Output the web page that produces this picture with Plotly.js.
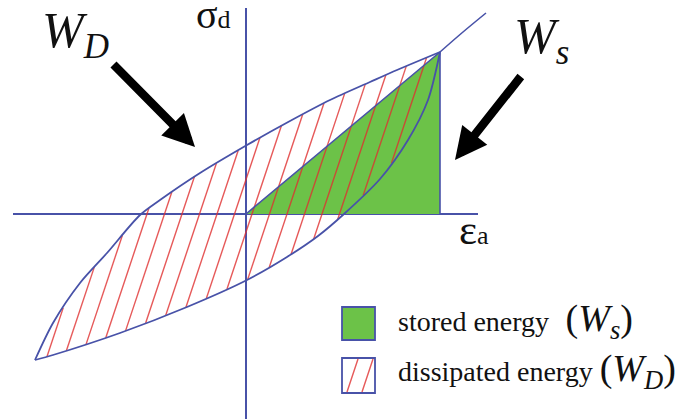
<!DOCTYPE html>
<html>
<head>
<meta charset="utf-8">
<script src="https://cdn.plot.ly/plotly-3.0.1.min.js"></script>
<style>
  html, body { margin: 0; padding: 0; background: #ffffff; }
  #chart { width: 682px; height: 419px; }
</style>
</head>
<body>
<div id="chart"></div>
<script>
// Hysteresis loop of deviator stress (sigma_d) against axial strain (eps_a).
// Strain / stress in arbitrary units, origin at the intersection of the axes.

// Unloading branch (upper edge of the loop), from the negative tip to the positive tip
const upperStrain = [-2.11, -1.93, -1.66, -1.39, -1.06, -0.86, -0.46, 0.01, 0.44, 0.84, 1.24, 1.51, 1.94];
const upperStress = [-1.46, -1.09, -0.69, -0.39, -0.01,  0.14,  0.41, 0.69, 0.93, 1.14, 1.32, 1.44, 1.62];

// Reloading branch (lower edge of the loop), from the negative tip to the positive tip
const lowerStrain = [-2.11, -1.93, -1.26, -0.59, 0.01,  0.41,  0.72, 0.98, 1.34, 1.62, 1.82, 1.94];
const lowerStress = [-1.46, -1.41, -1.19, -0.93, -0.66, -0.43, -0.22, 0.00, 0.35, 0.74, 1.14, 1.62];

// Backbone continuing beyond the positive tip
const backboneStrain = [1.94, 2.17, 2.40];
const backboneStress = [1.62, 1.82, 2.01];

// Drawn extent of the two coordinate axes
const strainAxisSpan = [-2.33, 2.32];
const stressAxisSpan = [-2.06, 2.06];

const W = 682, H = 419;
const BLUE = 'rgb(72,82,168)';
const GREEN = 'rgb(108,194,72)';
const HATCH = 'rgba(224,48,48,0.8)';
const SERIF = 'Liberation Serif, Times New Roman, serif';

// Hatch strokes: x - y / slope = const, spaced evenly along the strain axis
const HATCH_SLOPE = 3.0;
const HATCH_STEP = 0.175;
const HATCH_START = -0.99;

function hatchSegments(px, py) {
  const xs = [], ys = [];
  const n = px.length;
  let cmin = Infinity, cmax = -Infinity;
  for (let i = 0; i < n; i++) {
    const c = px[i] - py[i] / HATCH_SLOPE;
    cmin = Math.min(cmin, c); cmax = Math.max(cmax, c);
  }
  const k0 = Math.ceil((cmin - HATCH_START) / HATCH_STEP);
  const k1 = Math.floor((cmax - HATCH_START) / HATCH_STEP);
  for (let k = k0; k <= k1; k++) {
    const c = HATCH_START + k * HATCH_STEP;
    const hits = [];
    for (let i = 0; i < n; i++) {
      const j = (i + 1) % n;
      const fi = px[i] - py[i] / HATCH_SLOPE - c;
      const fj = px[j] - py[j] / HATCH_SLOPE - c;
      if ((fi < 0) !== (fj < 0)) {
        const t = fi / (fi - fj);
        hits.push([px[i] + t * (px[j] - px[i]), py[i] + t * (py[j] - py[i])]);
      }
    }
    hits.sort((a, b) => a[1] - b[1]);
    for (let m = 0; m + 1 < hits.length; m += 2) {
      xs.push(hits[m][0], hits[m + 1][0], null);
      ys.push(hits[m][1], hits[m + 1][1], null);
    }
  }
  return { xs, ys };
}

// Closed loop outline: upper branch forward, lower branch back
const loopX = upperStrain.concat(lowerStrain.slice(1, -1).reverse());
const loopY = upperStress.concat(lowerStress.slice(1, -1).reverse());
const hatch = hatchSegments(loopX, loopY);

const tipX = upperStrain[upperStrain.length - 1];
const tipY = upperStress[upperStress.length - 1];

const traces = [
  { // stored energy: triangle under the secant line
    x: [0, tipX, tipX, 0], y: [0, tipY, 0, 0],
    mode: 'lines', fill: 'toself', fillcolor: GREEN,
    line: { width: 0, color: GREEN }, hoverinfo: 'skip'
  },
  { // dissipated energy: hatched loop area
    x: hatch.xs, y: hatch.ys, mode: 'lines',
    line: { color: HATCH, width: 1.4 }, hoverinfo: 'skip'
  },
  { // secant line and right edge of the triangle
    x: [0, tipX, tipX], y: [0, tipY, 0], mode: 'lines',
    line: { color: BLUE, width: 1.6 }, hoverinfo: 'skip'
  },
  {
    x: upperStrain, y: upperStress, mode: 'lines',
    line: { color: BLUE, width: 1.8, shape: 'spline', smoothing: 0.8 }, hoverinfo: 'skip'
  },
  {
    x: lowerStrain, y: lowerStress, mode: 'lines',
    line: { color: BLUE, width: 1.8, shape: 'spline', smoothing: 0.8 }, hoverinfo: 'skip'
  },
  {
    x: backboneStrain, y: backboneStress, mode: 'lines',
    line: { color: BLUE, width: 1.6, shape: 'spline' }, hoverinfo: 'skip'
  }
];

// pixel position on the page -> paper coordinates
const px = v => v / W;
const py = v => 1 - v / H;

const shapes = [
  { type: 'line', xref: 'x', yref: 'y', x0: strainAxisSpan[0], x1: strainAxisSpan[1], y0: 0, y1: 0,
    line: { color: BLUE, width: 2 }, layer: 'below' },
  { type: 'line', xref: 'x', yref: 'y', x0: 0, x1: 0, y0: stressAxisSpan[0], y1: stressAxisSpan[1],
    line: { color: BLUE, width: 2 }, layer: 'below' },
  // legend swatches
  { type: 'rect', xref: 'paper', yref: 'paper', x0: px(342), x1: px(375), y0: py(340), y1: py(307),
    fillcolor: GREEN, line: { color: BLUE, width: 1.8 } },
  { type: 'rect', xref: 'paper', yref: 'paper', x0: px(342), x1: px(375), y0: py(393), y1: py(358),
    fillcolor: '#ffffff', line: { color: BLUE, width: 1.8 } },
  { type: 'line', xref: 'paper', yref: 'paper', x0: px(347), y0: py(392), x1: px(358), y1: py(359),
    line: { color: HATCH, width: 1.4 } },
  { type: 'line', xref: 'paper', yref: 'paper', x0: px(362), y0: py(392), x1: px(373), y1: py(359),
    line: { color: HATCH, width: 1.4 } }
];

const txt = (x, y, text, size, anchor) => ({
  xref: 'paper', yref: 'paper', x: px(x), y: py(y), xanchor: 'left', yanchor: anchor || 'middle',
  text: text, showarrow: false, font: { family: SERIF, size: size, color: '#111111' }
});

const arrow = (hx, hy, tx, ty) => ({
  xref: 'paper', yref: 'paper', x: px(hx), y: py(hy), ax: tx - hx, ay: ty - hy,
  text: '', showarrow: true, arrowhead: 2, arrowwidth: 8.5, arrowsize: 0.75, arrowcolor: '#000000'
});

const annotations = [
  txt(40, 0, '<i>W</i><sub><i>D</i></sub>', 50, 'top'),
  txt(512, 40, '<i>W</i><sub><i>s</i></sub>', 50),
  txt(194, 15, '<span style="font-size:40px">σ</span>d', 26),
  txt(457, 230, '<span style="font-size:43px">ε</span>a', 26),
  txt(396, 321, 'stored energy <span style="font-size:38px">\u00a0(<i>W</i><sub><i>s</i></sub>)</span>', 28),
  txt(396, 371, 'dissipated energy <span style="font-size:38px">(<i>W</i><sub><i>D</i></sub>)</span>', 28),
  arrow(195, 147, 112, 63),
  arrow(455, 160, 522, 75)
];

const layout = {
  width: W, height: H,
  margin: { l: 0, r: 0, t: 0, b: 0 },
  paper_bgcolor: '#ffffff', plot_bgcolor: '#ffffff',
  showlegend: false,
  xaxis: { range: [-2.46, 4.36], visible: false, fixedrange: true },
  yaxis: { range: [-2.05, 2.14], visible: false, fixedrange: true },
  shapes: shapes,
  annotations: annotations
};

Plotly.newPlot('chart', traces, layout, { displayModeBar: false, staticPlot: true });
</script>
</body>
</html>
